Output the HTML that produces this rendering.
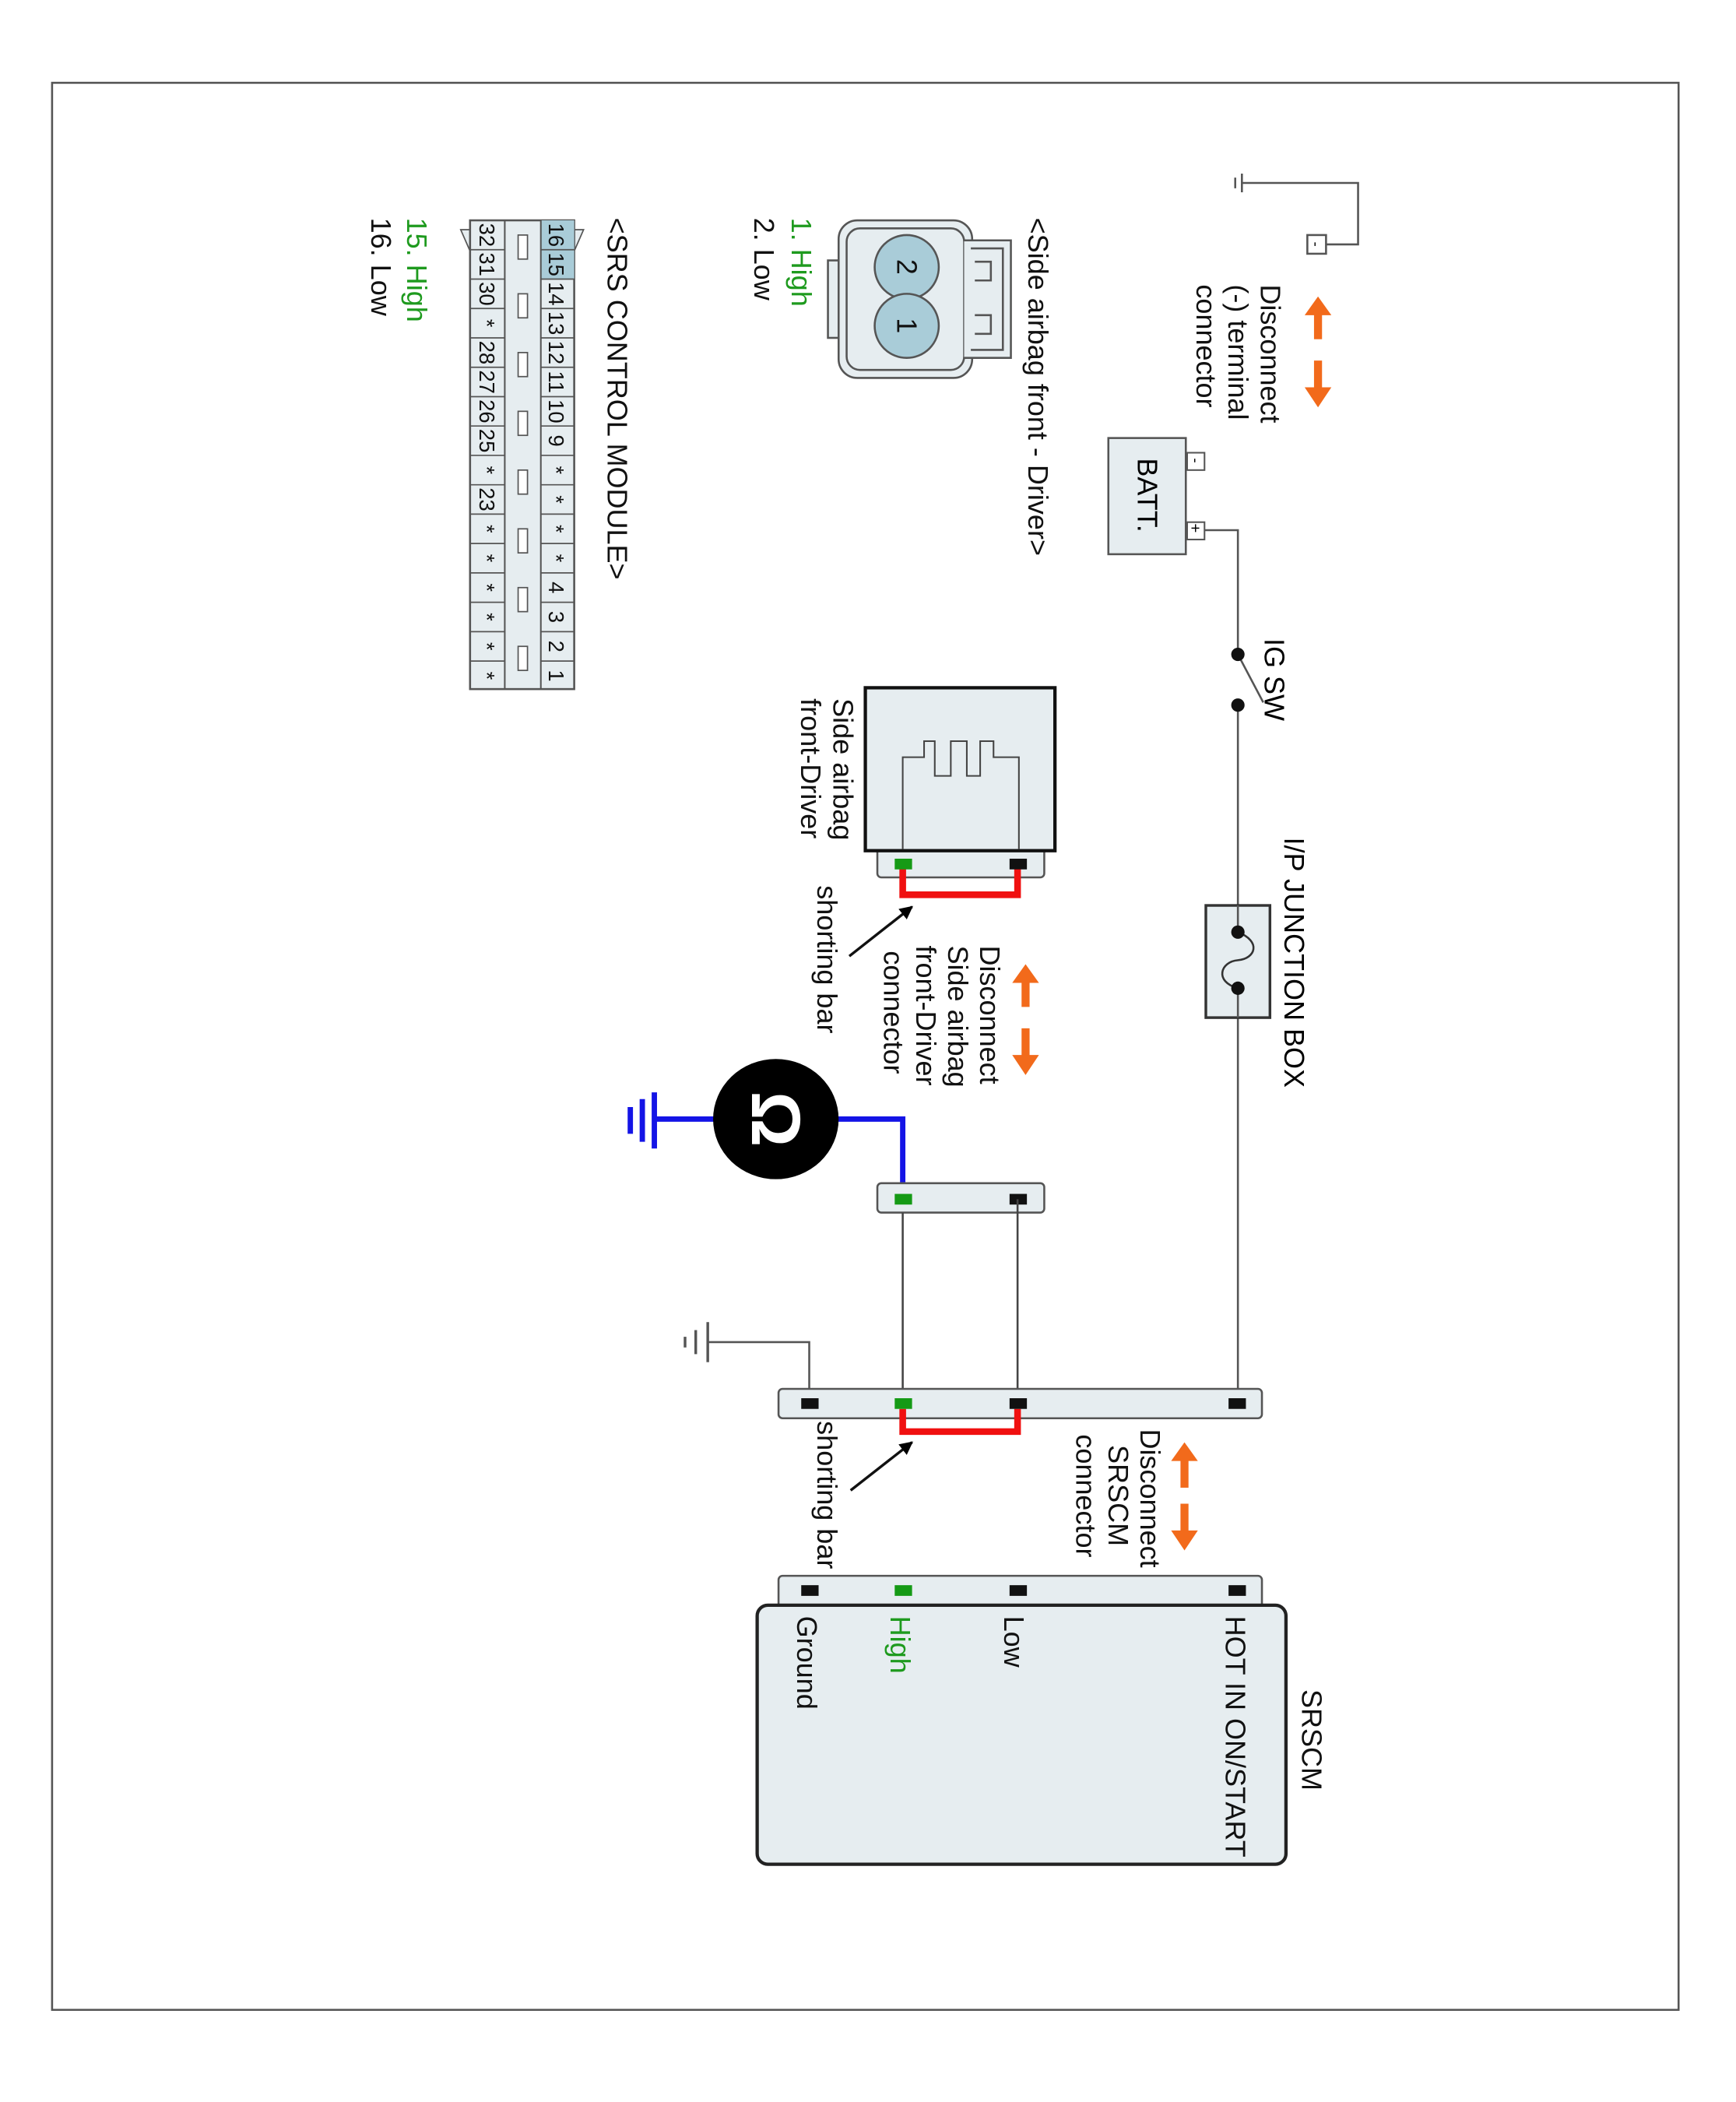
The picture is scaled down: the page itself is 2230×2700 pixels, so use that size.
<!DOCTYPE html>
<html><head><meta charset="utf-8"><style>
html,body{margin:0;padding:0;background:#fff;}
svg{display:block;}
text{font-family:"Liberation Sans",Arial,sans-serif;}
</style></head><body>
<svg width="2230" height="2700" viewBox="0 0 1300 1574" xmlns="http://www.w3.org/2000/svg">
<defs>
<marker id="ah" viewBox="0 0 10 10" refX="9" refY="5" markerWidth="5" markerHeight="5" orient="auto"><path d="M0,0 L10,5 L0,10 z" fill="#000"/></marker>
</defs>
<rect x="39" y="62" width="1218" height="1443" fill="#fff" stroke="#555" stroke-width="1.5"/>

<g stroke="#555" stroke-width="1.5" fill="none">
<path d="M930,137 H1017 V183 H993"/>
<line x1="930" y1="130" x2="930" y2="144"/>
<line x1="925" y1="133" x2="925" y2="141"/>
<rect x="979" y="176" width="14" height="14" fill="#fff"/>
</g>
<text font-size="11" transform="translate(982,181) rotate(90)">-</text>

<g fill="#f26a1b" stroke="none">
<rect x="984" y="232" width="6" height="22"/><path d="M977,236 L987,222 L997,236 z"/>
<rect x="984" y="270" width="6" height="22"/><path d="M977,290 L987,305 L997,290 z"/>
<rect x="765" y="732" width="6" height="22"/><path d="M758,736 L768,722 L778,736 z"/>
<rect x="765" y="770" width="6" height="22"/><path d="M758,790 L768,805 L778,790 z"/>
<rect x="884" y="1090" width="6" height="24"/><path d="M877,1094 L887,1080 L897,1094 z"/>
<rect x="884" y="1126" width="6" height="24"/><path d="M877,1146 L887,1161 L897,1146 z"/>
</g>
<g font-size="21" fill="#111">
<text transform="translate(944,213) rotate(90)">Disconnect</text>
<text transform="translate(920,213) rotate(90)">(-) terminal</text>
<text transform="translate(896,213) rotate(90)">connector</text>
</g>

<rect x="830" y="328" width="58" height="87" fill="#e6edf0" stroke="#555" stroke-width="1.5"/>
<text font-size="21" transform="translate(852,343) rotate(90)">BATT.</text>
<rect x="889" y="339" width="13" height="13" fill="#fff" stroke="#555" stroke-width="1.2"/>
<rect x="889" y="391" width="13" height="13" fill="#fff" stroke="#555" stroke-width="1.2"/>
<text font-size="11" transform="translate(892,343) rotate(90)">-</text>
<text font-size="12" transform="translate(891,392) rotate(90)">+</text>
<g stroke="#555" stroke-width="1.5" fill="none">
<path d="M902,397 H927 V490"/>
<line x1="927" y1="490" x2="946" y2="526"/>
<line x1="927" y1="528" x2="927" y2="1050"/>
</g>
<circle cx="927" cy="490" r="5" fill="#111"/>
<circle cx="927" cy="528" r="5" fill="#111"/>
<text font-size="21" transform="translate(947,478) rotate(90)">IG SW</text>

<rect x="903" y="678" width="48" height="84" fill="#e6edf0" stroke="#333" stroke-width="2"/>
<line x1="927" y1="678" x2="927" y2="762" stroke="#555" stroke-width="1.5"/>
<rect x="920" y="700" width="14" height="38" fill="#e6edf0"/>
<path d="M927,698 C945,705 940,718 927,719 C914,720 909,735 927,740" fill="none" stroke="#333" stroke-width="1.5"/>
<circle cx="927" cy="698" r="5" fill="#111"/>
<circle cx="927" cy="740" r="5" fill="#111"/>
<text font-size="21" transform="translate(962,627) rotate(90)">I/P JUNCTION BOX</text>

<rect x="657" y="635" width="125" height="22" rx="3" fill="#e6edf0" stroke="#555" stroke-width="1.5"/>
<rect x="648" y="515" width="142" height="122" fill="#e6edf0" stroke="#111" stroke-width="2.5"/>
<path d="M676,636 V567 H692 V555 H700 V581 H712 V555 H724 V581 H734 V555 H744 V567 H763 V636" fill="none" stroke="#444" stroke-width="1.2"/>
<path d="M676,650 V670 H762 V650" fill="none" stroke="#f01010" stroke-width="5"/>
<rect x="670" y="643" width="13" height="8" fill="#159a15"/>
<rect x="756" y="643" width="13" height="8" fill="#111"/>
<g font-size="21" fill="#111">
<text transform="translate(624,523) rotate(90)">Side airbag</text>
<text transform="translate(600,523) rotate(90)">front-Driver</text>
<text transform="translate(612,663) rotate(90)">shorting bar</text>
<text transform="translate(734,708) rotate(90)">Disconnect</text>
<text transform="translate(710,708) rotate(90)">Side airbag</text>
<text transform="translate(686,708) rotate(90)">front-Driver</text>
<text transform="translate(662,712) rotate(90)">connector</text>
</g>
<line x1="636" y1="716" x2="683" y2="679" stroke="#111" stroke-width="2" marker-end="url(#ah)"/>

<path d="M627,838 H676 V898" fill="none" stroke="#1414e6" stroke-width="4"/>
<line x1="490" y1="838" x2="535" y2="838" stroke="#1414e6" stroke-width="4"/>
<line x1="490" y1="818" x2="490" y2="860" stroke="#1414e6" stroke-width="4"/>
<line x1="481" y1="823" x2="481" y2="855" stroke="#1414e6" stroke-width="4"/>
<line x1="472" y1="829" x2="472" y2="849" stroke="#1414e6" stroke-width="4"/>
<ellipse cx="581" cy="838" rx="47" ry="45" fill="#000"/>
<text font-size="52" font-weight="bold" fill="#fff" text-anchor="middle" transform="translate(563,838) rotate(90)">Ω</text>

<rect x="657" y="886" width="125" height="22" rx="3" fill="#e6edf0" stroke="#555" stroke-width="1.5"/>
<rect x="670" y="894" width="13" height="8" fill="#159a15"/>
<rect x="756" y="894" width="13" height="8" fill="#111"/>
<g stroke="#444" stroke-width="1.5">
<line x1="676" y1="908" x2="676" y2="1040"/>
<line x1="762" y1="898" x2="762" y2="1040"/>
</g>

<path d="M530,1005 H606 V1045" fill="none" stroke="#555" stroke-width="1.5"/>
<line x1="530" y1="990" x2="530" y2="1020" stroke="#555" stroke-width="2"/>
<line x1="521" y1="996" x2="521" y2="1014" stroke="#555" stroke-width="2"/>
<line x1="513" y1="1001" x2="513" y2="1009" stroke="#555" stroke-width="2"/>

<rect x="583" y="1040" width="362" height="22" rx="3" fill="#e6edf0" stroke="#555" stroke-width="1.5"/>
<path d="M676,1055 V1072 H762 V1055" fill="none" stroke="#f01010" stroke-width="5"/>
<rect x="600" y="1047" width="13" height="8" fill="#111"/>
<rect x="670" y="1047" width="13" height="8" fill="#159a15"/>
<rect x="756" y="1047" width="13" height="8" fill="#111"/>
<rect x="920" y="1047" width="13" height="8" fill="#111"/>
<line x1="637" y1="1116" x2="683" y2="1080" stroke="#111" stroke-width="2" marker-end="url(#ah)"/>
<g font-size="21" fill="#111">
<text transform="translate(612,1064) rotate(90)">shorting bar</text>
<text transform="translate(854,1070) rotate(90)">Disconnect</text>
<text transform="translate(830,1082) rotate(90)">SRSCM</text>
<text transform="translate(806,1074) rotate(90)">connector</text>
</g>

<rect x="583" y="1180" width="362" height="30" rx="3" fill="#e6edf0" stroke="#555" stroke-width="1.5"/>
<rect x="567" y="1202" width="396" height="194" rx="8" fill="#e6edf0" stroke="#222" stroke-width="2.5"/>
<rect x="600" y="1187" width="13" height="8" fill="#111"/>
<rect x="670" y="1187" width="13" height="8" fill="#159a15"/>
<rect x="756" y="1187" width="13" height="8" fill="#111"/>
<rect x="920" y="1187" width="13" height="8" fill="#111"/>
<g font-size="21" fill="#111">
<text transform="translate(918,1210) rotate(90)">HOT IN ON/START</text>
<text transform="translate(752,1210) rotate(90)">Low</text>
<text transform="translate(667,1210) rotate(90)" fill="#1e9a1e">High</text>
<text transform="translate(597,1210) rotate(90)">Ground</text>
<text transform="translate(975,1265) rotate(90)">SRSCM</text>
</g>

<g fill="#e6edf0" stroke="#555" stroke-width="1.5">
<rect x="620" y="195" width="10" height="58"/>
<rect x="628" y="165" width="100" height="118" rx="14"/>
<rect x="634" y="171" width="88" height="106" rx="10"/>
<path d="M722,180 H757 V268 H722" />
<path d="M727,186 H751 V262 H727" fill="none"/>
<path d="M730,196 H742 V210 H730 M730,236 H742 V250 H730" fill="none"/>
</g>
<circle cx="679" cy="200" r="24" fill="#a9ccd8" stroke="#555" stroke-width="1.5"/>
<circle cx="679" cy="244" r="24" fill="#a9ccd8" stroke="#555" stroke-width="1.5"/>
<g font-size="21" fill="#111">
<text transform="translate(672,194) rotate(90)">2</text>
<text transform="translate(672,238) rotate(90)">1</text>
<text transform="translate(770,163) rotate(90)">&lt;Side airbag front - Driver&gt;</text>
<text transform="translate(593,163) rotate(90)" fill="#1e9a1e">1. High</text>
<text transform="translate(565,163) rotate(90)">2. Low</text>
<text transform="translate(455,163) rotate(90)">&lt;SRS CONTROL MODULE&gt;</text>
<text transform="translate(305,163) rotate(90)" fill="#1e9a1e">15. High</text>
<text transform="translate(278,163) rotate(90)">16. Low</text>
</g>

<path d="M345,172 L352,188 L352,172 z M437,172 L430,188 L430,172 z" fill="#e6edf0" stroke="#555" stroke-width="1"/>
<rect x="352" y="165" width="78" height="351" fill="#e6edf0" stroke="#555" stroke-width="1.5"/>
<rect x="405" y="165" width="25" height="44" fill="#a9ccd8"/>
<g stroke="#555" stroke-width="1.2" fill="none">
<line x1="378" y1="165" x2="378" y2="516"/>
<line x1="405" y1="165" x2="405" y2="516"/>
</g>
<g stroke="#555" stroke-width="1">
<line x1="405" y1="187" x2="430" y2="187"/><line x1="405" y1="209" x2="430" y2="209"/><line x1="405" y1="231" x2="430" y2="231"/><line x1="405" y1="253" x2="430" y2="253"/><line x1="405" y1="275" x2="430" y2="275"/><line x1="405" y1="297" x2="430" y2="297"/><line x1="405" y1="319" x2="430" y2="319"/><line x1="405" y1="341" x2="430" y2="341"/><line x1="405" y1="363" x2="430" y2="363"/><line x1="405" y1="385" x2="430" y2="385"/><line x1="405" y1="407" x2="430" y2="407"/><line x1="405" y1="429" x2="430" y2="429"/><line x1="405" y1="451" x2="430" y2="451"/><line x1="405" y1="473" x2="430" y2="473"/><line x1="405" y1="495" x2="430" y2="495"/>
<line x1="352" y1="187" x2="378" y2="187"/><line x1="352" y1="209" x2="378" y2="209"/><line x1="352" y1="231" x2="378" y2="231"/><line x1="352" y1="253" x2="378" y2="253"/><line x1="352" y1="275" x2="378" y2="275"/><line x1="352" y1="297" x2="378" y2="297"/><line x1="352" y1="319" x2="378" y2="319"/><line x1="352" y1="341" x2="378" y2="341"/><line x1="352" y1="363" x2="378" y2="363"/><line x1="352" y1="385" x2="378" y2="385"/><line x1="352" y1="407" x2="378" y2="407"/><line x1="352" y1="429" x2="378" y2="429"/><line x1="352" y1="451" x2="378" y2="451"/><line x1="352" y1="473" x2="378" y2="473"/><line x1="352" y1="495" x2="378" y2="495"/>
</g>
<g fill="#fff" stroke="#555" stroke-width="1">
<rect x="388" y="176" width="7" height="18"/><rect x="388" y="220" width="7" height="18"/><rect x="388" y="264" width="7" height="18"/><rect x="388" y="308" width="7" height="18"/><rect x="388" y="352" width="7" height="18"/><rect x="388" y="396" width="7" height="18"/><rect x="388" y="440" width="7" height="18"/><rect x="388" y="484" width="7" height="18"/>
</g>
<g font-size="16" fill="#111" text-anchor="middle">
<text transform="translate(411,176) rotate(90)">16</text><text transform="translate(411,198) rotate(90)">15</text><text transform="translate(411,220) rotate(90)">14</text><text transform="translate(411,242) rotate(90)">13</text><text transform="translate(411,264) rotate(90)">12</text><text transform="translate(411,286) rotate(90)">11</text><text transform="translate(411,308) rotate(90)">10</text><text transform="translate(411,330) rotate(90)">9</text><text transform="translate(411,352) rotate(90)">*</text><text transform="translate(411,374) rotate(90)">*</text><text transform="translate(411,396) rotate(90)">*</text><text transform="translate(411,418) rotate(90)">*</text><text transform="translate(411,440) rotate(90)">4</text><text transform="translate(411,462) rotate(90)">3</text><text transform="translate(411,484) rotate(90)">2</text><text transform="translate(411,506) rotate(90)">1</text>
<text transform="translate(359,176) rotate(90)">32</text><text transform="translate(359,198) rotate(90)">31</text><text transform="translate(359,220) rotate(90)">30</text><text transform="translate(359,242) rotate(90)">*</text><text transform="translate(359,264) rotate(90)">28</text><text transform="translate(359,286) rotate(90)">27</text><text transform="translate(359,308) rotate(90)">26</text><text transform="translate(359,330) rotate(90)">25</text><text transform="translate(359,352) rotate(90)">*</text><text transform="translate(359,374) rotate(90)">23</text><text transform="translate(359,396) rotate(90)">*</text><text transform="translate(359,418) rotate(90)">*</text><text transform="translate(359,440) rotate(90)">*</text><text transform="translate(359,462) rotate(90)">*</text><text transform="translate(359,484) rotate(90)">*</text><text transform="translate(359,506) rotate(90)">*</text>
</g>
</svg>
</body></html>
